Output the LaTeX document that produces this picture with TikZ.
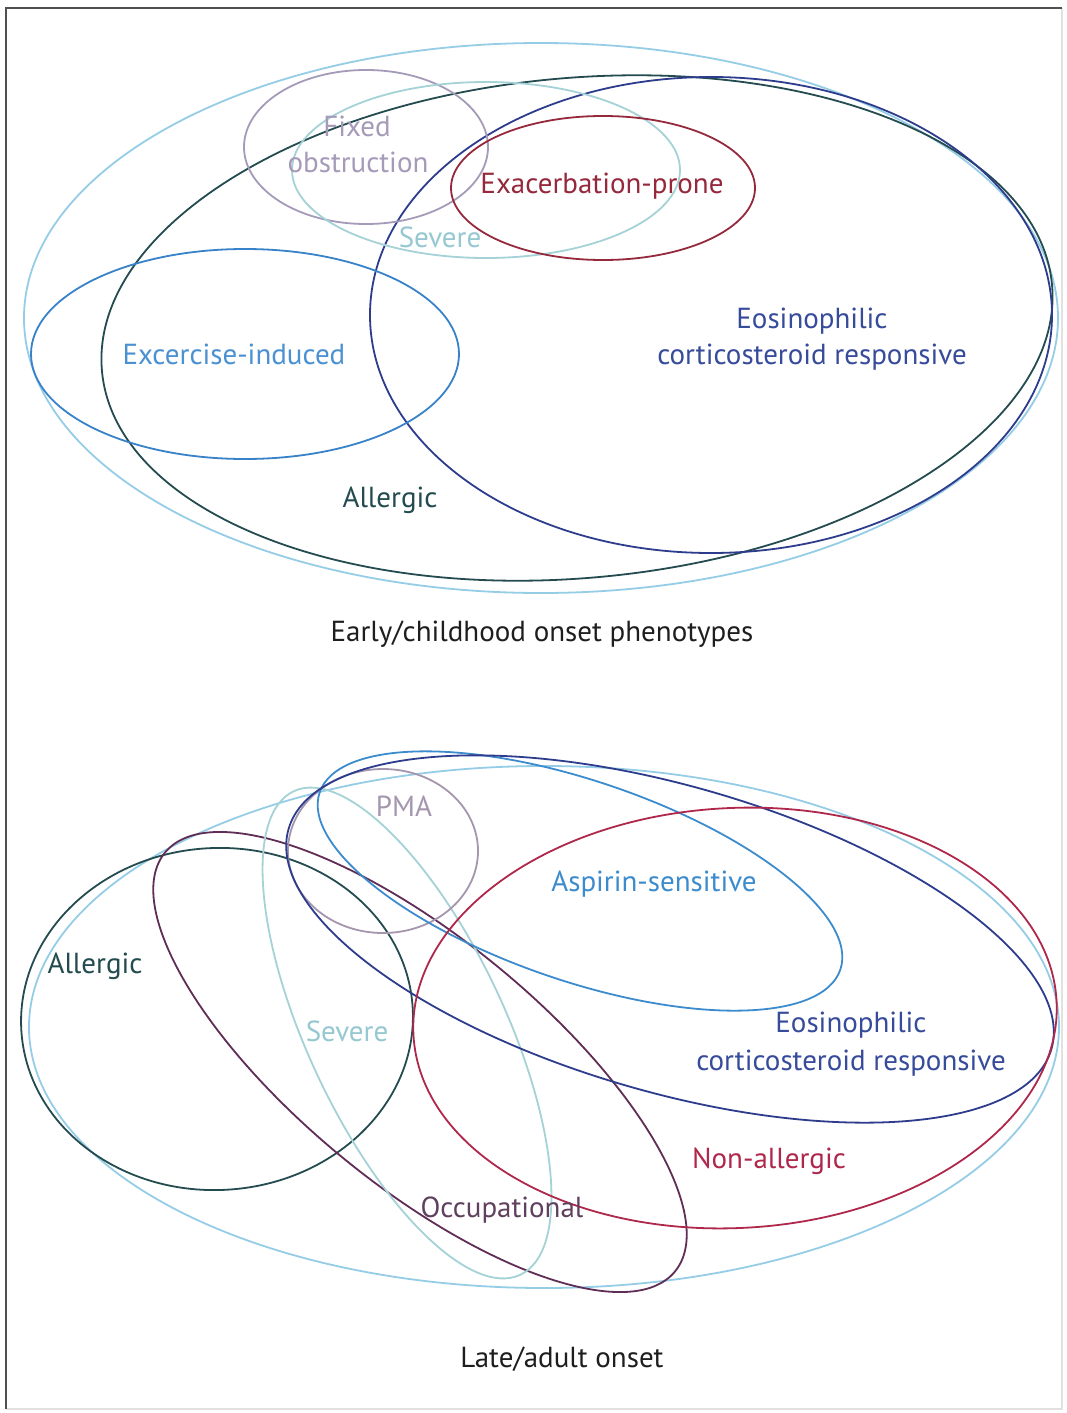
\documentclass[tikz,border=0pt]{standalone}
\usepackage{fontspec}
\setmainfont{PT Sans}
\definecolor{outerblue}{RGB}{150,205,230}
\definecolor{allergc}{RGB}{35,75,80}
\definecolor{eosin}{RGB}{45,60,140}
\definecolor{eosintxt}{RGB}{55,75,155}
\definecolor{exer}{RGB}{55,130,200}
\definecolor{exertxt}{RGB}{75,145,210}
\definecolor{fixedc}{RGB}{165,155,185}
\definecolor{severec}{RGB}{165,210,215}
\definecolor{severetxt}{RGB}{150,200,210}
\definecolor{exac}{RGB}{150,40,60}
\definecolor{occup}{RGB}{95,45,85}
\definecolor{occuptxt}{RGB}{95,65,95}
\definecolor{nonall}{RGB}{175,40,75}
\definecolor{aspir}{RGB}{60,140,205}
\definecolor{pmac}{RGB}{165,150,175}
\definecolor{borddark}{RGB}{80,80,80}
\definecolor{bordlight}{RGB}{225,225,225}
\definecolor{ttltxt}{RGB}{30,30,30}
\tikzset{
  ph/.style={line width=1.8pt},
  lbl/.style={font=\fontsize{29}{36}\selectfont, inner sep=0pt, align=center},
  ttl/.style={font=\fontsize{29}{36}\selectfont, inner sep=0pt, text=ttltxt}
}
\begin{document}
\begin{tikzpicture}[x=1pt,y=-1pt]
\useasboundingbox (0,0) rectangle (1067,1413);
\fill[white] (0,0) rectangle (1067,1413);
\draw[bordlight, line width=1.2pt] (1062,8) -- (1062,1409) -- (6,1409);
\draw[borddark, line width=1.6pt] (6,1409) -- (6,8) -- (1062,8);

% ---------- top diagram ----------
\draw[ph,outerblue] (541,318) ellipse [x radius=517, y radius=275];
\draw[ph,allergc, rotate around={5.2:(577,328)}] (577,328) ellipse [x radius=477, y radius=250];
\draw[ph,eosin] (711,315) ellipse [x radius=341, y radius=238];
\draw[ph,exer] (245,354) ellipse [x radius=214, y radius=105];
\draw[ph,fixedc] (366,147) ellipse [x radius=122, y radius=77];
\draw[ph,severec] (486,170) ellipse [x radius=194, y radius=88];
\draw[ph,exac] (603,188) ellipse [x radius=152, y radius=72];

\node[lbl,text=fixedc] (tfixed) at (357,126) {Fixed};
\node[lbl,text=fixedc] (tobstr) at (358,162) {obstruction};
\node[lbl,text=exac] (texac) at (602,186) {Exacerbation-prone};
\node[lbl,text=severetxt] (tsev) at (440,237) {Severe};
\node[lbl,text=eosintxt] (teos) at (812,321) {Eosinophilic};
\node[lbl,text=eosintxt] (tcort) at (812,357) {corticosteroid responsive};
\node[lbl,text=exertxt] (texer) at (234,354) {Excercise-induced};
\node[lbl,text=allergc] (tall) at (390,500) {Allergic};
\node[ttl] (ttop) at (542,634) {Early/childhood onset phenotypes};

% ---------- bottom diagram ----------
\draw[ph,outerblue] (544,1027) ellipse [x radius=515, y radius=261];
\draw[ph,allergc, rotate around={3:(217,1019)}] (217,1019) ellipse [x radius=196, y radius=171];
\draw[ph,occup, rotate around={-39.4:(420,1062)}] (420,1062) ellipse [x radius=330, y radius=123];
\draw[ph,severec, rotate around={-64.9:(407,1033)}] (407,1033) ellipse [x radius=267, y radius=99];
\draw[ph,pmac] (383,851) ellipse [x radius=95, y radius=82];
\draw[ph,aspir, rotate around={-18.8:(580,881)}] (580,881) ellipse [x radius=275, y radius=100];
\draw[ph,eosin, rotate around={-16.1:(670,939)}] (670,939) ellipse [x radius=397, y radius=153];
\draw[ph,nonall, rotate around={3:(735,1018)}] (735,1018) ellipse [x radius=322, y radius=210];

\node[lbl,text=pmac] (bpma) at (404,806) {PMA};
\node[lbl,text=aspir] (basp) at (654,884) {Aspirin-sensitive};
\node[lbl,text=allergc] (ball) at (95,966) {Allergic};
\node[lbl,text=severetxt] (bsev) at (347,1031) {Severe};
\node[lbl,text=eosintxt] (beos) at (851,1025) {Eosinophilic};
\node[lbl,text=eosintxt] (bcort) at (851,1063) {corticosteroid responsive};
\node[lbl,text=nonall] (bnon) at (769,1161) {Non-allergic};
\node[lbl,text=occuptxt] (bocc) at (502,1210) {Occupational};
\node[ttl] (tbot) at (562,1359) {Late/adult onset};
\end{tikzpicture}
\end{document}
